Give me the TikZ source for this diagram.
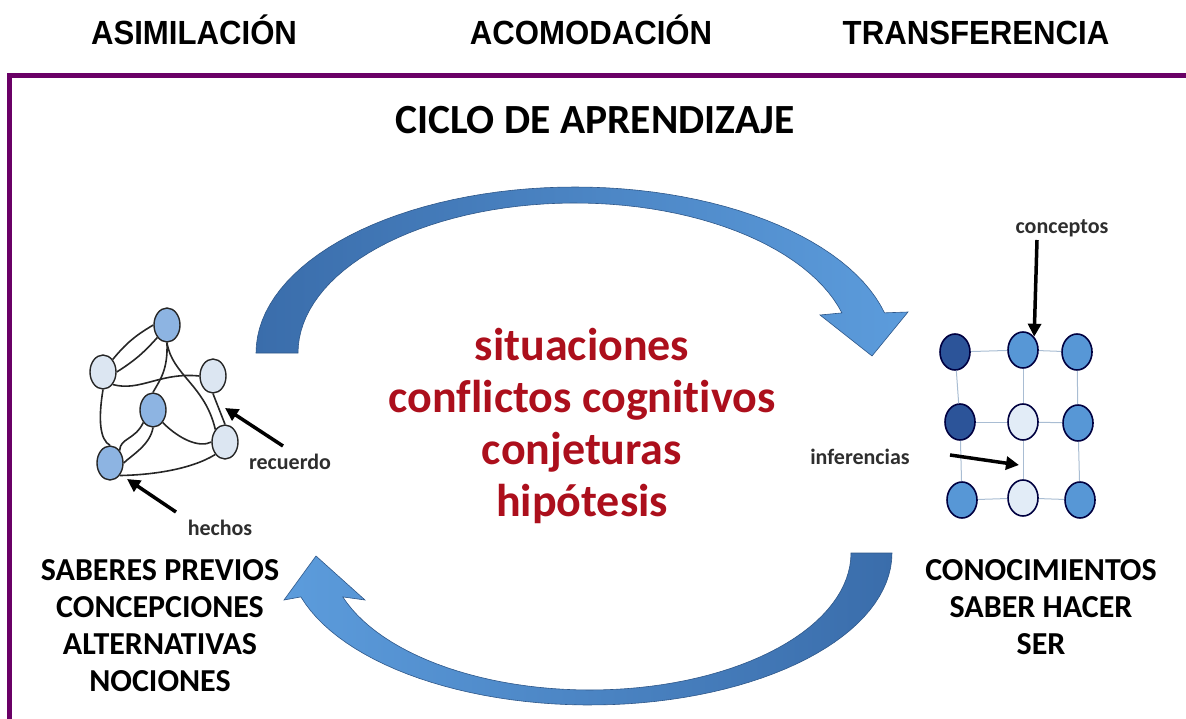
\documentclass[tikz,border=0pt]{standalone}
\usepackage{fontspec}
\setmainfont{Carlito}[Ligatures=NoCommon]
\newfontfamily\headfont{Liberation Sans}[FakeStretch=0.93]
\usetikzlibrary{shapes.geometric, arrows.meta}
\definecolor{frame}{HTML}{6A0066}
\definecolor{darkred}{HTML}{AC0F1C}
\definecolor{arrowdark}{HTML}{3A6DAB}
\definecolor{arrowlight}{HTML}{5C9CDC}
\definecolor{netmid}{HTML}{8DB4E2}
\definecolor{netlight}{HTML}{DCE6F2}
\definecolor{griddark}{HTML}{2C5499}
\definecolor{gridmid}{HTML}{5797D6}
\definecolor{gridlight}{HTML}{E2ECF7}
\definecolor{gridline}{HTML}{A9BDD3}

\begin{document}
\begin{tikzpicture}[x=1pt, y=-1pt,
  head/.style={anchor=base, font=\headfont\bfseries\fontsize{33.5}{40}\selectfont},
  txt/.style 2 args={align=center, font=\bfseries\fontsize{#1}{#2}\selectfont},
  small/.style={font=\bfseries\fontsize{22}{26}\selectfont, text=black!82},
  blob/.style={ellipse, draw=black!85, line width=1.4, minimum width=26, minimum height=34, inner sep=0, fill=#1}, blob/.default=netmid,
  dot/.style={ellipse, draw=black!75!blue, line width=1.6, minimum width=30, minimum height=36, inner sep=0, fill=#1}, dot/.default=gridmid,
  wire/.style={line width=1.6, black!85},
  gridwire/.style={line width=1, gridline},
  ptr/.style={-{Triangle[length=13pt, width=13pt]}, line width=3.5, black},
  bigarrow/.style={draw=arrowdark!80!black, line width=0.6}]

\useasboundingbox (0,0) rectangle (1186,719);

% headings
\node [head] (ASI) at (194,45) {ASIMILACIÓN};
\node [head] (ACO) at (591,45) {ACOMODACIÓN};
\node [head] (TRA) at (976,45) {TRANSFERENCIA};

% frame
\draw [frame, line width=5] (9,719) -- (9,76) -- (1186,76);

\node [txt={41.5}{48}] (CICLO) at (595,120) {CICLO DE APRENDIZAJE};

% upper curved arrow
\path [bigarrow, left color=arrowdark, right color=arrowlight]
  plot[domain=180:14, samples=60] ({575+319*cos(\x)},{353-166*sin(\x)})
  -- (908,312) -- (872,356) -- (820,315)
  -- plot[domain=15.5:180, samples=60] ({575+277*cos(\x)},{353-150*sin(\x)}) -- cycle;

% lower curved arrow
\path [bigarrow, left color=arrowlight, right color=arrowdark]
  plot[domain=0:163.2, samples=60] ({590+302*cos(\x)},{553+152*sin(\x)})
  -- (284,600) -- (316,556) -- (365,600)
  -- plot[domain=161.3:0, samples=60] ({590+261*cos(\x)},{553+137*sin(\x)}) -- cycle;

\node [txt={46}{52}, text=darkred] (MID) at (582,426) {situaciones\\conflictos cognitivos\\conjeturas\\hipótesis};

% left network
\node [blob] (N1) at (167,325) {};
\node [blob=netlight] (N2) at (103,372) {};
\node [blob=netlight] (N3) at (213,376) {};
\node [blob] (N4) at (153,410) {};
\node [blob=netlight] (N5) at (225,442) {};
\node [blob] (N6) at (110,463) {};

\draw [wire] (N1.west) to[bend right=10] (N2.north east);
\draw [wire] (N1.south west) to[bend left=8] (N2.east);
\draw [wire] (N2.south east) .. controls (140,392) and (160,372) .. (N3.west);
\draw [wire] (N1.south) .. controls (168,370) and (160,380) .. (N4.north);
\draw [wire] (N1.south) .. controls (172,375) and (205,385) .. (N5.north west);
\draw [wire] (N2.south) .. controls (98,420) and (100,440) .. (N6.north);
\draw [wire] (N4.south west) .. controls (135,440) and (120,438) .. (N6.north east);
\draw [wire] (N4.south) .. controls (150,445) and (132,455) .. (N6.east);
\draw [wire] (N4.south east) .. controls (180,440) and (200,448) .. (N5.west);
\draw [wire] (N3.south) -- (N5.north);
\draw [wire] (N6.south east) .. controls (150,475) and (190,470) .. (N5.south west);

\node [small] (REC) at (290,462) {recuerdo};
\node [small] (HEC) at (220,528) {hechos};
\coordinate (recTail) at (283,446);
\coordinate (recTip) at (225,408);
\coordinate (hecTail) at (176,512);
\coordinate (hecTip) at (127,479);
\draw [ptr] (recTail) -- (recTip);
\draw [ptr] (hecTail) -- (hecTip);

\node [txt={32}{37}] (PREV) at (160,626) {SABERES PREVIOS\\CONCEPCIONES\\ALTERNATIVAS\\NOCIONES};

% right grid
\node [dot=griddark] (G11) at (955,352) {};
\node [dot] (G12) at (1023,350) {};
\node [dot] (G13) at (1077,352) {};
\node [dot=griddark] (G21) at (960,422) {};
\node [dot=gridlight] (G22) at (1023,422) {};
\node [dot] (G23) at (1078,423) {};
\node [dot] (G31) at (962,500) {};
\node [dot=gridlight] (G32) at (1023,498) {};
\node [dot] (G33) at (1080,500) {};

\draw [gridwire] (G11) -- (G12);
\draw [gridwire] (G12) -- (G13);
\draw [gridwire] (G21) -- (G22);
\draw [gridwire] (G22) -- (G23);
\draw [gridwire] (G31) -- (G32);
\draw [gridwire] (G32) -- (G33);
\draw [gridwire] (G11) -- (G21);
\draw [gridwire] (G21) -- (G31);
\draw [gridwire] (G12) -- (G22);
\draw [gridwire] (G22) -- (G32);
\draw [gridwire] (G13) -- (G23);
\draw [gridwire] (G23) -- (G33);

\node [small] (CON) at (1062,228) {conceptos};
\node [small] (INF) at (860,457) {inferencias};
\coordinate (conTail) at (1037,240);
\coordinate (infTail) at (950,455);
\coordinate (infTip) at (1019,465);
\draw [ptr] (conTail) -- (G12.north east);
\draw [ptr] (infTail) -- (infTip);

\node [txt={32}{37}] (KNOW) at (1041,607) {CONOCIMIENTOS\\SABER HACER\\SER};

\end{tikzpicture}
\end{document}
